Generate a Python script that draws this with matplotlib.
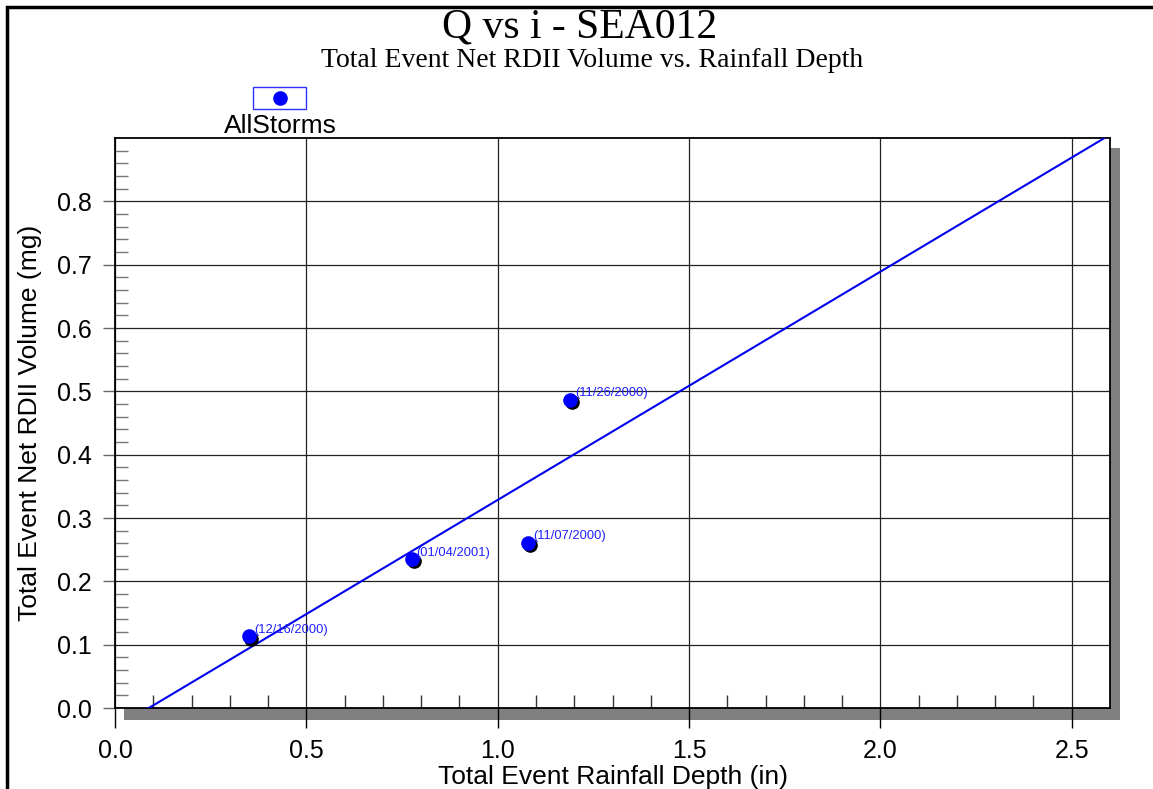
import matplotlib.pyplot as plt
import matplotlib.transforms as mtransforms
from matplotlib.patches import Rectangle
from matplotlib.lines import Line2D
import numpy as np

# storm events
dates = ["(12/16/2000)", "(01/04/2001)", "(11/07/2000)", "(11/26/2000)"]
rain = [0.35, 0.775, 1.08, 1.19]
vol = [0.113, 0.235, 0.261, 0.487]

xticks = [0.0, 0.5, 1.0, 1.5, 2.0, 2.5]
yticks = [0.0, 0.1, 0.2, 0.3, 0.4, 0.5, 0.6, 0.7, 0.8]

W, H = 1153, 789
fig = plt.figure(figsize=(W / 100, H / 100), dpi=100)
plt.rcParams['font.family'] = ['Liberation Sans', 'DejaVu Sans']

def fx(px):
    return px / W

def fy(py):
    return 1 - py / H

def box(x0, y0, x1, y1):
    # pixel box (top-left origin) -> figure fraction rectangle args
    return (fx(x0), fy(y1)), fx(x1) - fx(x0), fy(y0) - fy(y1)

# plot area
L, T, R, B = 115, 138, 1110, 708
ax = fig.add_axes([fx(L), fy(B), fx(R) - fx(L), fy(T) - fy(B)])

# outer frame and drop shadow
fig.add_artist(Rectangle(*box(7, 7, 1300, 1300), transform=fig.transFigure,
                         fill=False, edgecolor='black', lw=2.5, zorder=5))
fig.add_artist(Rectangle(*box(124, 148, 1120, 720), transform=fig.transFigure,
                         facecolor='#808080', edgecolor='none', zorder=-1))

# least squares fit line
k, b = np.polyfit(rain, vol, 1)
xs = np.array([0.0, 2.7])
ax.plot(xs, k * xs + b, color='#0000ee', lw=1.5, zorder=3)

# points with small black shadow
shadow = mtransforms.offset_copy(ax.transData, fig=fig, x=1.5, y=-1.5, units='points')
ax.plot(rain, vol, 'o', color='black', ms=9.5, transform=shadow, zorder=4)
ax.plot(rain, vol, 'o', color='#0000ff', ms=9.5, zorder=5)
for x, y, d in zip(rain, vol, dates):
    ax.annotate(d, (x, y), xytext=(3.5, 4.5), textcoords='offset points',
                fontsize=9.3, color='#2020ff', va='center', ha='left', zorder=6)

ax.set_xlim(0, 2.6)
ax.set_ylim(0, 0.9)
ax.set_xticks(xticks)
ax.set_yticks(yticks)
ax.set_xticks(np.arange(0, 2.6, 0.1), minor=True)
ax.set_yticks(np.arange(0, 0.9, 0.02), minor=True)
ax.set_xticklabels([f"{v:.1f}" for v in xticks], fontsize=18)
ax.set_yticklabels([f"{v:.1f}" for v in yticks], fontsize=18)
ax.tick_params(axis='x', which='major', direction='out', length=14.5, width=1, color='black', pad=8)
ax.tick_params(axis='y', which='major', direction='out', length=8.5, width=1, color='#666666', pad=8)
ax.tick_params(axis='x', which='minor', direction='in', length=9.5, width=1, color='#333333')
ax.tick_params(axis='y', which='minor', direction='in', length=9.5, width=1, color='#777777')
ax.grid(True, which='major', color='#222222', lw=0.9)
for s in ax.spines.values():
    s.set_linewidth(1.3)
ax.set_axisbelow(True)

ax.set_xlabel("Total Event Rainfall Depth (in)", fontsize=19, labelpad=1)
ax.set_ylabel("Total Event Net RDII Volume (mg)", fontsize=19, labelpad=11)

fig.text(fx(580), fy(37), "Q vs i - SEA012", family='Liberation Serif', fontsize=30,
         ha='center', va='baseline')
fig.text(fx(592), fy(67), "Total Event Net RDII Volume vs. Rainfall Depth",
         family='Liberation Serif', fontsize=20, ha='center', va='baseline')

# legend
fig.add_artist(Rectangle(*box(253, 87, 306, 109), transform=fig.transFigure,
                         fill=False, edgecolor='#3030ff', lw=1))
fig.add_artist(Line2D([fx(280)], [fy(98)], marker='o', ms=9.5, color='#0000ff',
                      transform=fig.transFigure))
fig.text(fx(280), fy(126), "AllStorms", fontsize=19, ha='center', va='center')

fig.savefig("out.png", dpi=100)
